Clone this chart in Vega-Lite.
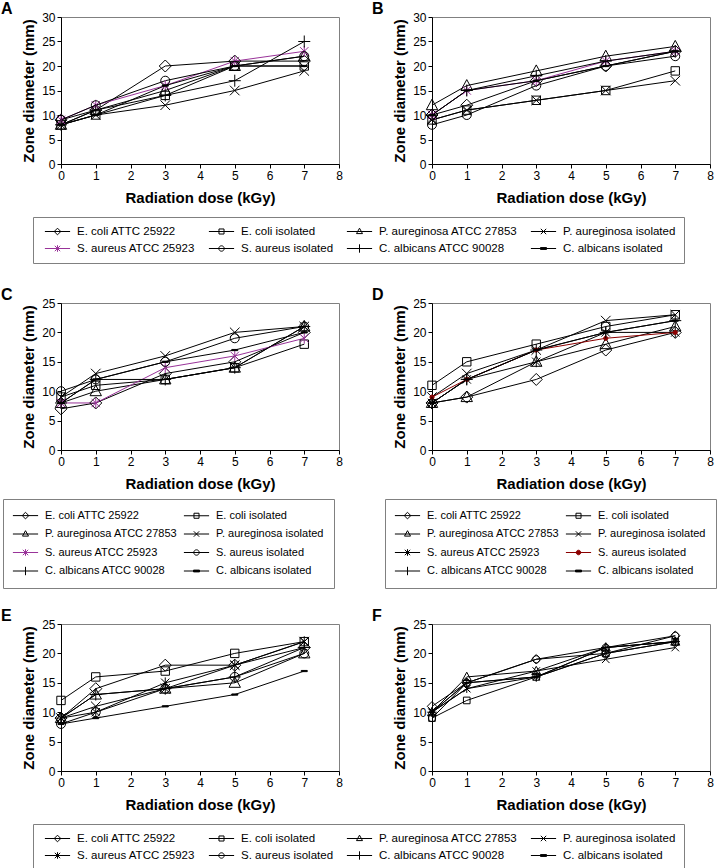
{
"$schema": "https://vega.github.io/schema/vega-lite/v6.json",
"padding": {"left": 0, "top": 0, "right": 0, "bottom": 0},
"config": {
  "font": "Liberation Sans",
  "view": {"stroke": null},
  "axis": {"grid": false, "domainColor": "black", "tickColor": "black", "tickSize": 4, "labelFontSize": 12, "labelColor": "black", "labelPadding": 2, "titleFontSize": 15, "titleFontWeight": "bold", "titleColor": "black", "labelFont": "Liberation Sans", "titleFont": "Liberation Sans", "labelFlush": false},
  "axisX": {"titlePadding": 9},
  "axisY": {"titlePadding": 5},
  "title": {"fontSize": 16, "fontWeight": "bold", "color": "black", "anchor": "start", "frame": "group", "font": "Liberation Sans"},
  "legend": {"direction": "horizontal", "columnPadding": 9, "rowPadding": 5, "padding": 8, "strokeColor": "#808080", "fillColor": "white", "symbolSize": 144, "symbolStrokeWidth": 1, "symbolOffset": 10, "labelFontSize": 11.5, "labelFont": "Liberation Sans", "labelColor": "black", "labelOffset": 13}
},
"datasets": {"pts": [
{"panel":"A","series":"E. coli ATTC 25922","dose":0,"zone":9},{"panel":"A","series":"E. coli ATTC 25922","dose":1,"zone":11},{"panel":"A","series":"E. coli ATTC 25922","dose":3,"zone":20},{"panel":"A","series":"E. coli ATTC 25922","dose":5,"zone":21},{"panel":"A","series":"E. coli ATTC 25922","dose":7,"zone":21},
{"panel":"A","series":"E. coli isolated","dose":0,"zone":8},{"panel":"A","series":"E. coli isolated","dose":1,"zone":10},{"panel":"A","series":"E. coli isolated","dose":3,"zone":14},{"panel":"A","series":"E. coli isolated","dose":5,"zone":20},{"panel":"A","series":"E. coli isolated","dose":7,"zone":20},
{"panel":"A","series":"P. aureginosa ATCC 27853","dose":0,"zone":8},{"panel":"A","series":"P. aureginosa ATCC 27853","dose":1,"zone":11},{"panel":"A","series":"P. aureginosa ATCC 27853","dose":3,"zone":15},{"panel":"A","series":"P. aureginosa ATCC 27853","dose":5,"zone":20},{"panel":"A","series":"P. aureginosa ATCC 27853","dose":7,"zone":22},
{"panel":"A","series":"P. aureginosa isolated","dose":0,"zone":8},{"panel":"A","series":"P. aureginosa isolated","dose":1,"zone":10},{"panel":"A","series":"P. aureginosa isolated","dose":3,"zone":12},{"panel":"A","series":"P. aureginosa isolated","dose":5,"zone":15},{"panel":"A","series":"P. aureginosa isolated","dose":7,"zone":19},
{"panel":"A","series":"S. aureus ATCC 25923","dose":0,"zone":9},{"panel":"A","series":"S. aureus ATCC 25923","dose":1,"zone":12},{"panel":"A","series":"S. aureus ATCC 25923","dose":3,"zone":16},{"panel":"A","series":"S. aureus ATCC 25923","dose":5,"zone":21},{"panel":"A","series":"S. aureus ATCC 25923","dose":7,"zone":23},
{"panel":"A","series":"S. aureus isolated","dose":0,"zone":9},{"panel":"A","series":"S. aureus isolated","dose":1,"zone":12},{"panel":"A","series":"S. aureus isolated","dose":3,"zone":17},{"panel":"A","series":"S. aureus isolated","dose":5,"zone":20},{"panel":"A","series":"S. aureus isolated","dose":7,"zone":22},
{"panel":"A","series":"C. albicans ATCC 90028","dose":0,"zone":8},{"panel":"A","series":"C. albicans ATCC 90028","dose":1,"zone":11},{"panel":"A","series":"C. albicans ATCC 90028","dose":3,"zone":14},{"panel":"A","series":"C. albicans ATCC 90028","dose":5,"zone":17},{"panel":"A","series":"C. albicans ATCC 90028","dose":7,"zone":25},
{"panel":"A","series":"C. albicans isolated","dose":0,"zone":8},{"panel":"A","series":"C. albicans isolated","dose":1,"zone":10},{"panel":"A","series":"C. albicans isolated","dose":3,"zone":16},{"panel":"A","series":"C. albicans isolated","dose":5,"zone":20},{"panel":"A","series":"C. albicans isolated","dose":7,"zone":20},
{"panel":"B","series":"E. coli ATTC 25922","dose":0,"zone":10},{"panel":"B","series":"E. coli ATTC 25922","dose":1,"zone":12},{"panel":"B","series":"E. coli ATTC 25922","dose":3,"zone":17},{"panel":"B","series":"E. coli ATTC 25922","dose":5,"zone":20},{"panel":"B","series":"E. coli ATTC 25922","dose":7,"zone":23},
{"panel":"B","series":"E. coli isolated","dose":0,"zone":9},{"panel":"B","series":"E. coli isolated","dose":1,"zone":11},{"panel":"B","series":"E. coli isolated","dose":3,"zone":13},{"panel":"B","series":"E. coli isolated","dose":5,"zone":15},{"panel":"B","series":"E. coli isolated","dose":7,"zone":19},
{"panel":"B","series":"P. aureginosa ATCC 27853","dose":0,"zone":12},{"panel":"B","series":"P. aureginosa ATCC 27853","dose":1,"zone":16},{"panel":"B","series":"P. aureginosa ATCC 27853","dose":3,"zone":19},{"panel":"B","series":"P. aureginosa ATCC 27853","dose":5,"zone":22},{"panel":"B","series":"P. aureginosa ATCC 27853","dose":7,"zone":24},
{"panel":"B","series":"P. aureginosa isolated","dose":0,"zone":9},{"panel":"B","series":"P. aureginosa isolated","dose":1,"zone":11},{"panel":"B","series":"P. aureginosa isolated","dose":3,"zone":13},{"panel":"B","series":"P. aureginosa isolated","dose":5,"zone":15},{"panel":"B","series":"P. aureginosa isolated","dose":7,"zone":17},
{"panel":"B","series":"S. aureus ATCC 25923","dose":0,"zone":10},{"panel":"B","series":"S. aureus ATCC 25923","dose":1,"zone":15},{"panel":"B","series":"S. aureus ATCC 25923","dose":3,"zone":17},{"panel":"B","series":"S. aureus ATCC 25923","dose":5,"zone":21},{"panel":"B","series":"S. aureus ATCC 25923","dose":7,"zone":23},
{"panel":"B","series":"S. aureus isolated","dose":0,"zone":8},{"panel":"B","series":"S. aureus isolated","dose":1,"zone":10},{"panel":"B","series":"S. aureus isolated","dose":3,"zone":16},{"panel":"B","series":"S. aureus isolated","dose":5,"zone":20},{"panel":"B","series":"S. aureus isolated","dose":7,"zone":22},
{"panel":"B","series":"C. albicans ATCC 90028","dose":0,"zone":10},{"panel":"B","series":"C. albicans ATCC 90028","dose":1,"zone":15},{"panel":"B","series":"C. albicans ATCC 90028","dose":3,"zone":18},{"panel":"B","series":"C. albicans ATCC 90028","dose":5,"zone":21},{"panel":"B","series":"C. albicans ATCC 90028","dose":7,"zone":23},
{"panel":"B","series":"C. albicans isolated","dose":0,"zone":10},{"panel":"B","series":"C. albicans isolated","dose":1,"zone":15},{"panel":"B","series":"C. albicans isolated","dose":3,"zone":17},{"panel":"B","series":"C. albicans isolated","dose":5,"zone":20},{"panel":"B","series":"C. albicans isolated","dose":7,"zone":23},
{"panel":"C","series":"E. coli ATTC 25922","dose":0,"zone":7},{"panel":"C","series":"E. coli ATTC 25922","dose":1,"zone":8},{"panel":"C","series":"E. coli ATTC 25922","dose":3,"zone":13},{"panel":"C","series":"E. coli ATTC 25922","dose":5,"zone":15},{"panel":"C","series":"E. coli ATTC 25922","dose":7,"zone":20},
{"panel":"C","series":"E. coli isolated","dose":0,"zone":9},{"panel":"C","series":"E. coli isolated","dose":1,"zone":11},{"panel":"C","series":"E. coli isolated","dose":3,"zone":12},{"panel":"C","series":"E. coli isolated","dose":5,"zone":14},{"panel":"C","series":"E. coli isolated","dose":7,"zone":18},
{"panel":"C","series":"P. aureginosa ATCC 27853","dose":0,"zone":8},{"panel":"C","series":"P. aureginosa ATCC 27853","dose":1,"zone":10},{"panel":"C","series":"P. aureginosa ATCC 27853","dose":3,"zone":12},{"panel":"C","series":"P. aureginosa ATCC 27853","dose":5,"zone":14},{"panel":"C","series":"P. aureginosa ATCC 27853","dose":7,"zone":21},
{"panel":"C","series":"P. aureginosa isolated","dose":0,"zone":9},{"panel":"C","series":"P. aureginosa isolated","dose":1,"zone":13},{"panel":"C","series":"P. aureginosa isolated","dose":3,"zone":16},{"panel":"C","series":"P. aureginosa isolated","dose":5,"zone":20},{"panel":"C","series":"P. aureginosa isolated","dose":7,"zone":21},
{"panel":"C","series":"S. aureus ATCC 25923","dose":0,"zone":8},{"panel":"C","series":"S. aureus ATCC 25923","dose":1,"zone":8},{"panel":"C","series":"S. aureus ATCC 25923","dose":3,"zone":14},{"panel":"C","series":"S. aureus ATCC 25923","dose":5,"zone":16},{"panel":"C","series":"S. aureus ATCC 25923","dose":7,"zone":19},
{"panel":"C","series":"S. aureus isolated","dose":0,"zone":10},{"panel":"C","series":"S. aureus isolated","dose":1,"zone":12},{"panel":"C","series":"S. aureus isolated","dose":3,"zone":15},{"panel":"C","series":"S. aureus isolated","dose":5,"zone":19},{"panel":"C","series":"S. aureus isolated","dose":7,"zone":21},
{"panel":"C","series":"C. albicans ATCC 90028","dose":0,"zone":8},{"panel":"C","series":"C. albicans ATCC 90028","dose":1,"zone":12},{"panel":"C","series":"C. albicans ATCC 90028","dose":3,"zone":12},{"panel":"C","series":"C. albicans ATCC 90028","dose":5,"zone":14},{"panel":"C","series":"C. albicans ATCC 90028","dose":7,"zone":21},
{"panel":"C","series":"C. albicans isolated","dose":0,"zone":8},{"panel":"C","series":"C. albicans isolated","dose":1,"zone":12},{"panel":"C","series":"C. albicans isolated","dose":3,"zone":15},{"panel":"C","series":"C. albicans isolated","dose":5,"zone":17},{"panel":"C","series":"C. albicans isolated","dose":7,"zone":20},
{"panel":"D","series":"E. coli ATTC 25922","dose":0,"zone":8},{"panel":"D","series":"E. coli ATTC 25922","dose":1,"zone":9},{"panel":"D","series":"E. coli ATTC 25922","dose":3,"zone":12},{"panel":"D","series":"E. coli ATTC 25922","dose":5,"zone":17},{"panel":"D","series":"E. coli ATTC 25922","dose":7,"zone":20},
{"panel":"D","series":"E. coli isolated","dose":0,"zone":11},{"panel":"D","series":"E. coli isolated","dose":1,"zone":15},{"panel":"D","series":"E. coli isolated","dose":3,"zone":18},{"panel":"D","series":"E. coli isolated","dose":5,"zone":21},{"panel":"D","series":"E. coli isolated","dose":7,"zone":23},
{"panel":"D","series":"P. aureginosa ATCC 27853","dose":0,"zone":8},{"panel":"D","series":"P. aureginosa ATCC 27853","dose":1,"zone":9},{"panel":"D","series":"P. aureginosa ATCC 27853","dose":3,"zone":15},{"panel":"D","series":"P. aureginosa ATCC 27853","dose":5,"zone":18},{"panel":"D","series":"P. aureginosa ATCC 27853","dose":7,"zone":21},
{"panel":"D","series":"P. aureginosa isolated","dose":0,"zone":9},{"panel":"D","series":"P. aureginosa isolated","dose":1,"zone":13},{"panel":"D","series":"P. aureginosa isolated","dose":3,"zone":17},{"panel":"D","series":"P. aureginosa isolated","dose":5,"zone":22},{"panel":"D","series":"P. aureginosa isolated","dose":7,"zone":23},
{"panel":"D","series":"S. aureus ATCC 25923","dose":0,"zone":8},{"panel":"D","series":"S. aureus ATCC 25923","dose":1,"zone":12},{"panel":"D","series":"S. aureus ATCC 25923","dose":3,"zone":15},{"panel":"D","series":"S. aureus ATCC 25923","dose":5,"zone":20},{"panel":"D","series":"S. aureus ATCC 25923","dose":7,"zone":20},
{"panel":"D","series":"S. aureus isolated","dose":0,"zone":9},{"panel":"D","series":"S. aureus isolated","dose":1,"zone":12},{"panel":"D","series":"S. aureus isolated","dose":3,"zone":17},{"panel":"D","series":"S. aureus isolated","dose":5,"zone":19},{"panel":"D","series":"S. aureus isolated","dose":7,"zone":20},
{"panel":"D","series":"C. albicans ATCC 90028","dose":0,"zone":8},{"panel":"D","series":"C. albicans ATCC 90028","dose":1,"zone":12},{"panel":"D","series":"C. albicans ATCC 90028","dose":3,"zone":17},{"panel":"D","series":"C. albicans ATCC 90028","dose":5,"zone":20},{"panel":"D","series":"C. albicans ATCC 90028","dose":7,"zone":22},
{"panel":"D","series":"C. albicans isolated","dose":0,"zone":8},{"panel":"D","series":"C. albicans isolated","dose":1,"zone":12},{"panel":"D","series":"C. albicans isolated","dose":3,"zone":17},{"panel":"D","series":"C. albicans isolated","dose":5,"zone":20},{"panel":"D","series":"C. albicans isolated","dose":7,"zone":22},
{"panel":"E","series":"E. coli ATTC 25922","dose":0,"zone":9},{"panel":"E","series":"E. coli ATTC 25922","dose":1,"zone":14},{"panel":"E","series":"E. coli ATTC 25922","dose":3,"zone":18},{"panel":"E","series":"E. coli ATTC 25922","dose":5,"zone":18},{"panel":"E","series":"E. coli ATTC 25922","dose":7,"zone":21},
{"panel":"E","series":"E. coli isolated","dose":0,"zone":12},{"panel":"E","series":"E. coli isolated","dose":1,"zone":16},{"panel":"E","series":"E. coli isolated","dose":3,"zone":17},{"panel":"E","series":"E. coli isolated","dose":5,"zone":20},{"panel":"E","series":"E. coli isolated","dose":7,"zone":22},
{"panel":"E","series":"P. aureginosa ATCC 27853","dose":0,"zone":9},{"panel":"E","series":"P. aureginosa ATCC 27853","dose":1,"zone":13},{"panel":"E","series":"P. aureginosa ATCC 27853","dose":3,"zone":14},{"panel":"E","series":"P. aureginosa ATCC 27853","dose":5,"zone":15},{"panel":"E","series":"P. aureginosa ATCC 27853","dose":7,"zone":20},
{"panel":"E","series":"P. aureginosa isolated","dose":0,"zone":9},{"panel":"E","series":"P. aureginosa isolated","dose":1,"zone":11},{"panel":"E","series":"P. aureginosa isolated","dose":3,"zone":14},{"panel":"E","series":"P. aureginosa isolated","dose":5,"zone":18},{"panel":"E","series":"P. aureginosa isolated","dose":7,"zone":22},
{"panel":"E","series":"S. aureus ATCC 25923","dose":0,"zone":9},{"panel":"E","series":"S. aureus ATCC 25923","dose":1,"zone":10},{"panel":"E","series":"S. aureus ATCC 25923","dose":3,"zone":15},{"panel":"E","series":"S. aureus ATCC 25923","dose":5,"zone":18},{"panel":"E","series":"S. aureus ATCC 25923","dose":7,"zone":22},
{"panel":"E","series":"S. aureus isolated","dose":0,"zone":8},{"panel":"E","series":"S. aureus isolated","dose":1,"zone":10},{"panel":"E","series":"S. aureus isolated","dose":3,"zone":14},{"panel":"E","series":"S. aureus isolated","dose":5,"zone":16},{"panel":"E","series":"S. aureus isolated","dose":7,"zone":20},
{"panel":"E","series":"C. albicans ATCC 90028","dose":0,"zone":9},{"panel":"E","series":"C. albicans ATCC 90028","dose":1,"zone":13},{"panel":"E","series":"C. albicans ATCC 90028","dose":3,"zone":14},{"panel":"E","series":"C. albicans ATCC 90028","dose":5,"zone":16},{"panel":"E","series":"C. albicans ATCC 90028","dose":7,"zone":21},
{"panel":"E","series":"C. albicans isolated","dose":0,"zone":8},{"panel":"E","series":"C. albicans isolated","dose":1,"zone":9},{"panel":"E","series":"C. albicans isolated","dose":3,"zone":11},{"panel":"E","series":"C. albicans isolated","dose":5,"zone":13},{"panel":"E","series":"C. albicans isolated","dose":7,"zone":17},
{"panel":"F","series":"E. coli ATTC 25922","dose":0,"zone":11},{"panel":"F","series":"E. coli ATTC 25922","dose":1,"zone":15},{"panel":"F","series":"E. coli ATTC 25922","dose":3,"zone":19},{"panel":"F","series":"E. coli ATTC 25922","dose":5,"zone":20},{"panel":"F","series":"E. coli ATTC 25922","dose":7,"zone":23},
{"panel":"F","series":"E. coli isolated","dose":0,"zone":9},{"panel":"F","series":"E. coli isolated","dose":1,"zone":12},{"panel":"F","series":"E. coli isolated","dose":3,"zone":16},{"panel":"F","series":"E. coli isolated","dose":5,"zone":20},{"panel":"F","series":"E. coli isolated","dose":7,"zone":22},
{"panel":"F","series":"P. aureginosa ATCC 27853","dose":0,"zone":10},{"panel":"F","series":"P. aureginosa ATCC 27853","dose":1,"zone":16},{"panel":"F","series":"P. aureginosa ATCC 27853","dose":3,"zone":17},{"panel":"F","series":"P. aureginosa ATCC 27853","dose":5,"zone":21},{"panel":"F","series":"P. aureginosa ATCC 27853","dose":7,"zone":22},
{"panel":"F","series":"P. aureginosa isolated","dose":0,"zone":10},{"panel":"F","series":"P. aureginosa isolated","dose":1,"zone":14},{"panel":"F","series":"P. aureginosa isolated","dose":3,"zone":17},{"panel":"F","series":"P. aureginosa isolated","dose":5,"zone":19},{"panel":"F","series":"P. aureginosa isolated","dose":7,"zone":21},
{"panel":"F","series":"S. aureus ATCC 25923","dose":0,"zone":10},{"panel":"F","series":"S. aureus ATCC 25923","dose":1,"zone":14},{"panel":"F","series":"S. aureus ATCC 25923","dose":3,"zone":16},{"panel":"F","series":"S. aureus ATCC 25923","dose":5,"zone":20},{"panel":"F","series":"S. aureus ATCC 25923","dose":7,"zone":22},
{"panel":"F","series":"S. aureus isolated","dose":0,"zone":9},{"panel":"F","series":"S. aureus isolated","dose":1,"zone":15},{"panel":"F","series":"S. aureus isolated","dose":3,"zone":19},{"panel":"F","series":"S. aureus isolated","dose":5,"zone":21},{"panel":"F","series":"S. aureus isolated","dose":7,"zone":23},
{"panel":"F","series":"C. albicans ATCC 90028","dose":0,"zone":10},{"panel":"F","series":"C. albicans ATCC 90028","dose":1,"zone":15},{"panel":"F","series":"C. albicans ATCC 90028","dose":3,"zone":16},{"panel":"F","series":"C. albicans ATCC 90028","dose":5,"zone":21},{"panel":"F","series":"C. albicans ATCC 90028","dose":7,"zone":22},
{"panel":"F","series":"C. albicans isolated","dose":0,"zone":10},{"panel":"F","series":"C. albicans isolated","dose":1,"zone":15},{"panel":"F","series":"C. albicans isolated","dose":3,"zone":16},{"panel":"F","series":"C. albicans isolated","dose":5,"zone":21},{"panel":"F","series":"C. albicans isolated","dose":7,"zone":22}
]},
"spacing": 0,
"resolve": {"scale": {"shape": "independent", "stroke": "independent", "fill": "independent"}},
"vconcat": [
{"hconcat": [
 {"width": 278, "height": 147, "title": {"text": "A", "dx": -60, "offset": -6}, "view": {"stroke": "#808080"},
  "data": {"name": "pts"}, "transform": [{"filter": "datum.panel == 'A'"}],
  "encoding": {
   "x": {"field": "dose", "type": "quantitative", "scale": {"domain": [0, 8], "nice": false}, "axis": {"values": [0,1,2,3,4,5,6,7,8], "title": "Radiation dose (kGy)"}},
   "y": {"field": "zone", "type": "quantitative", "scale": {"domain": [0, 30], "nice": false}, "axis": {"values": [0,5,10,15,20,25,30], "title": "Zone diameter (mm)"}}},
  "layer": [
   {"mark": {"type": "line", "strokeWidth": 1}, "encoding": {"stroke": {"field": "series", "type": "nominal", "scale": {"domain": ["E. coli ATTC 25922","E. coli isolated","P. aureginosa ATCC 27853","P. aureginosa isolated","S. aureus ATCC 25923","S. aureus isolated","C. albicans ATCC 90028","C. albicans isolated"], "range": ["black","black","black","black","#993399","black","black","black"]}, "legend": null}}},
   {"mark": {"type": "point", "size": 144, "strokeWidth": 1, "opacity": 1}, "encoding": {
     "stroke": {"field": "series", "type": "nominal", "scale": {"domain": ["E. coli ATTC 25922","E. coli isolated","P. aureginosa ATCC 27853","P. aureginosa isolated","S. aureus ATCC 25923","S. aureus isolated","C. albicans ATCC 90028","C. albicans isolated"], "range": ["black","black","black","black","#993399","black","black","black"]}, "legend": null},
     "fill": {"field": "series", "type": "nominal", "scale": {"domain": ["E. coli ATTC 25922","E. coli isolated","P. aureginosa ATCC 27853","P. aureginosa isolated","S. aureus ATCC 25923","S. aureus isolated","C. albicans ATCC 90028","C. albicans isolated"], "range": ["transparent","transparent","transparent","transparent","transparent","transparent","transparent","black"]}, "legend": null},
     "shape": {"field": "series", "type": "nominal", "scale": {"domain": ["E. coli ATTC 25922","E. coli isolated","P. aureginosa ATCC 27853","P. aureginosa isolated","S. aureus ATCC 25923","S. aureus isolated","C. albicans ATCC 90028","C. albicans isolated"], "range": ["M0,-1L1,0L0,1L-1,0Z","M-0.7,-0.7L0.7,-0.7L0.7,0.7L-0.7,0.7Z","M0,-1L0.95,0.75L-0.95,0.75Z","M-0.8,-0.8L0.8,0.8M-0.8,0.8L0.8,-0.8","M-0.7,-0.7L0.7,0.7M-0.7,0.7L0.7,-0.7M0,-0.9L0,0.9","M0.75,0A0.75,0.75 0 1 1 -0.75,0A0.75,0.75 0 1 1 0.75,0Z","M-1,0L1,0M0,-1L0,1","M-0.5,-0.1L0.5,-0.1L0.5,0.1L-0.5,0.1Z"]}, "legend": null}}}
  ]},
 {"width": 278, "height": 147, "title": {"text": "B", "dx": -60, "offset": -6}, "view": {"stroke": "#808080"},
  "data": {"name": "pts"}, "transform": [{"filter": "datum.panel == 'B'"}],
  "encoding": {
   "x": {"field": "dose", "type": "quantitative", "scale": {"domain": [0, 8], "nice": false}, "axis": {"values": [0,1,2,3,4,5,6,7,8], "title": "Radiation dose (kGy)"}},
   "y": {"field": "zone", "type": "quantitative", "scale": {"domain": [0, 30], "nice": false}, "axis": {"values": [0,5,10,15,20,25,30], "title": "Zone diameter (mm)"}}},
  "layer": [
   {"mark": {"type": "line", "strokeWidth": 1}, "encoding": {"stroke": {"field": "series", "type": "nominal", "scale": {"domain": ["E. coli ATTC 25922","E. coli isolated","P. aureginosa ATCC 27853","P. aureginosa isolated","S. aureus ATCC 25923","S. aureus isolated","C. albicans ATCC 90028","C. albicans isolated"], "range": ["black","black","black","black","#993399","black","black","black"]}, "legend": null}}},
   {"mark": {"type": "point", "size": 144, "strokeWidth": 1, "opacity": 1}, "encoding": {
     "stroke": {"field": "series", "type": "nominal", "scale": {"domain": ["E. coli ATTC 25922","E. coli isolated","P. aureginosa ATCC 27853","P. aureginosa isolated","S. aureus ATCC 25923","S. aureus isolated","C. albicans ATCC 90028","C. albicans isolated"], "range": ["black","black","black","black","#993399","black","black","black"]}, "legend": null},
     "fill": {"field": "series", "type": "nominal", "scale": {"domain": ["E. coli ATTC 25922","E. coli isolated","P. aureginosa ATCC 27853","P. aureginosa isolated","S. aureus ATCC 25923","S. aureus isolated","C. albicans ATCC 90028","C. albicans isolated"], "range": ["transparent","transparent","transparent","transparent","transparent","transparent","transparent","black"]}, "legend": null},
     "shape": {"field": "series", "type": "nominal", "scale": {"domain": ["E. coli ATTC 25922","E. coli isolated","P. aureginosa ATCC 27853","P. aureginosa isolated","S. aureus ATCC 25923","S. aureus isolated","C. albicans ATCC 90028","C. albicans isolated"], "range": ["M0,-1L1,0L0,1L-1,0Z","M-0.7,-0.7L0.7,-0.7L0.7,0.7L-0.7,0.7Z","M0,-1L0.95,0.75L-0.95,0.75Z","M-0.8,-0.8L0.8,0.8M-0.8,0.8L0.8,-0.8","M-0.7,-0.7L0.7,0.7M-0.7,0.7L0.7,-0.7M0,-0.9L0,0.9","M0.75,0A0.75,0.75 0 1 1 -0.75,0A0.75,0.75 0 1 1 0.75,0Z","M-1,0L1,0M0,-1L0,1","M-0.5,-0.1L0.5,-0.1L0.5,0.1L-0.5,0.1Z"]}, "legend": null}}}
  ]}
 ], "spacing": 28, "resolve": {"scale": {"shape": "independent", "stroke": "independent", "fill": "independent"}}},
{"width": 360, "height": 80, "data": {"name": "pts"}, "transform": [{"filter": "false"}],
 "mark": {"type": "point", "size": 144, "opacity": 1, "strokeWidth": 1},
 "encoding": {
  "stroke": {"field": "series", "type": "nominal", "scale": {"domain": ["E. coli ATTC 25922","E. coli isolated","P. aureginosa ATCC 27853","P. aureginosa isolated","S. aureus ATCC 25923","S. aureus isolated","C. albicans ATCC 90028","C. albicans isolated"], "range": ["black","black","black","black","#993399","black","black","black"]}, "legend": {"title": null, "orient": "none", "legendX": -28, "legendY": 11, "columns": 4}},
  "fill": {"field": "series", "type": "nominal", "scale": {"domain": ["E. coli ATTC 25922","E. coli isolated","P. aureginosa ATCC 27853","P. aureginosa isolated","S. aureus ATCC 25923","S. aureus isolated","C. albicans ATCC 90028","C. albicans isolated"], "range": ["transparent","transparent","transparent","transparent","transparent","transparent","transparent","black"]}, "legend": {"title": null, "orient": "none", "legendX": -28, "legendY": 11, "columns": 4}},
  "shape": {"field": "series", "type": "nominal", "scale": {"domain": ["E. coli ATTC 25922","E. coli isolated","P. aureginosa ATCC 27853","P. aureginosa isolated","S. aureus ATCC 25923","S. aureus isolated","C. albicans ATCC 90028","C. albicans isolated"], "range": ["M-2.1,0L2.1,0M0,-0.55L0.55,0L0,0.55L-0.55,0Z","M-2.1,0L2.1,0M-0.42,-0.42L0.42,-0.42L0.42,0.42L-0.42,0.42Z","M-2.1,0L2.1,0M0,-0.55L0.5,0.35L-0.5,0.35Z","M-2.1,0L2.1,0M-0.45,-0.45L0.45,0.45M-0.45,0.45L0.45,-0.45","M-2.1,0L2.1,0M-0.45,-0.45L0.45,0.45M-0.45,0.45L0.45,-0.45M0,-0.55L0,0.55","M-2.1,0L2.1,0M0.45,0A0.45,0.45 0 1 1 -0.45,0A0.45,0.45 0 1 1 0.45,0Z","M-2.1,0L2.1,0M0,-0.7L0,0.7","M-2.1,0L2.1,0M-0.5,-0.15L0.5,-0.15L0.5,0.15L-0.5,0.15Z"]}, "legend": {"title": null, "orient": "none", "legendX": -28, "legendY": 11, "columns": 4}}}},
{"hconcat": [
 {"width": 278, "height": 147, "title": {"text": "C", "dx": -60, "offset": -6}, "view": {"stroke": "#808080"},
  "data": {"name": "pts"}, "transform": [{"filter": "datum.panel == 'C'"}],
  "encoding": {
   "x": {"field": "dose", "type": "quantitative", "scale": {"domain": [0, 8], "nice": false}, "axis": {"values": [0,1,2,3,4,5,6,7,8], "title": "Radiation dose (kGy)"}},
   "y": {"field": "zone", "type": "quantitative", "scale": {"domain": [0, 25], "nice": false}, "axis": {"values": [0,5,10,15,20,25], "title": "Zone diameter (mm)"}}},
  "layer": [
   {"mark": {"type": "line", "strokeWidth": 1}, "encoding": {"stroke": {"field": "series", "type": "nominal", "scale": {"domain": ["E. coli ATTC 25922","E. coli isolated","P. aureginosa ATCC 27853","P. aureginosa isolated","S. aureus ATCC 25923","S. aureus isolated","C. albicans ATCC 90028","C. albicans isolated"], "range": ["black","black","black","black","#993399","black","black","black"]}, "legend": null}}},
   {"mark": {"type": "point", "size": 144, "strokeWidth": 1, "opacity": 1}, "encoding": {
     "stroke": {"field": "series", "type": "nominal", "scale": {"domain": ["E. coli ATTC 25922","E. coli isolated","P. aureginosa ATCC 27853","P. aureginosa isolated","S. aureus ATCC 25923","S. aureus isolated","C. albicans ATCC 90028","C. albicans isolated"], "range": ["black","black","black","black","#993399","black","black","black"]}, "legend": null},
     "fill": {"field": "series", "type": "nominal", "scale": {"domain": ["E. coli ATTC 25922","E. coli isolated","P. aureginosa ATCC 27853","P. aureginosa isolated","S. aureus ATCC 25923","S. aureus isolated","C. albicans ATCC 90028","C. albicans isolated"], "range": ["transparent","transparent","transparent","transparent","transparent","transparent","transparent","black"]}, "legend": null},
     "shape": {"field": "series", "type": "nominal", "scale": {"domain": ["E. coli ATTC 25922","E. coli isolated","P. aureginosa ATCC 27853","P. aureginosa isolated","S. aureus ATCC 25923","S. aureus isolated","C. albicans ATCC 90028","C. albicans isolated"], "range": ["M0,-1L1,0L0,1L-1,0Z","M-0.7,-0.7L0.7,-0.7L0.7,0.7L-0.7,0.7Z","M0,-1L0.95,0.75L-0.95,0.75Z","M-0.8,-0.8L0.8,0.8M-0.8,0.8L0.8,-0.8","M-0.7,-0.7L0.7,0.7M-0.7,0.7L0.7,-0.7M0,-0.9L0,0.9","M0.75,0A0.75,0.75 0 1 1 -0.75,0A0.75,0.75 0 1 1 0.75,0Z","M-1,0L1,0M0,-1L0,1","M-0.5,-0.1L0.5,-0.1L0.5,0.1L-0.5,0.1Z"]}, "legend": null}}}
  ]},
 {"width": 278, "height": 147, "title": {"text": "D", "dx": -60, "offset": -6}, "view": {"stroke": "#808080"},
  "data": {"name": "pts"}, "transform": [{"filter": "datum.panel == 'D'"}],
  "encoding": {
   "x": {"field": "dose", "type": "quantitative", "scale": {"domain": [0, 8], "nice": false}, "axis": {"values": [0,1,2,3,4,5,6,7,8], "title": "Radiation dose (kGy)"}},
   "y": {"field": "zone", "type": "quantitative", "scale": {"domain": [0, 25], "nice": false}, "axis": {"values": [0,5,10,15,20,25], "title": "Zone diameter (mm)"}}},
  "layer": [
   {"mark": {"type": "line", "strokeWidth": 1}, "encoding": {"stroke": {"field": "series", "type": "nominal", "scale": {"domain": ["E. coli ATTC 25922","E. coli isolated","P. aureginosa ATCC 27853","P. aureginosa isolated","S. aureus ATCC 25923","S. aureus isolated","C. albicans ATCC 90028","C. albicans isolated"], "range": ["black","black","black","black","black","#8B0000","black","black"]}, "legend": null}}},
   {"mark": {"type": "point", "size": 144, "strokeWidth": 1, "opacity": 1}, "encoding": {
     "stroke": {"field": "series", "type": "nominal", "scale": {"domain": ["E. coli ATTC 25922","E. coli isolated","P. aureginosa ATCC 27853","P. aureginosa isolated","S. aureus ATCC 25923","S. aureus isolated","C. albicans ATCC 90028","C. albicans isolated"], "range": ["black","black","black","black","black","#8B0000","black","black"]}, "legend": null},
     "fill": {"field": "series", "type": "nominal", "scale": {"domain": ["E. coli ATTC 25922","E. coli isolated","P. aureginosa ATCC 27853","P. aureginosa isolated","S. aureus ATCC 25923","S. aureus isolated","C. albicans ATCC 90028","C. albicans isolated"], "range": ["transparent","transparent","transparent","transparent","transparent","#8B0000","transparent","black"]}, "legend": null},
     "shape": {"field": "series", "type": "nominal", "scale": {"domain": ["E. coli ATTC 25922","E. coli isolated","P. aureginosa ATCC 27853","P. aureginosa isolated","S. aureus ATCC 25923","S. aureus isolated","C. albicans ATCC 90028","C. albicans isolated"], "range": ["M0,-1L1,0L0,1L-1,0Z","M-0.7,-0.7L0.7,-0.7L0.7,0.7L-0.7,0.7Z","M0,-1L0.95,0.75L-0.95,0.75Z","M-0.8,-0.8L0.8,0.8M-0.8,0.8L0.8,-0.8","M-0.7,-0.7L0.7,0.7M-0.7,0.7L0.7,-0.7M0,-0.9L0,0.9","M0.35,0A0.35,0.35 0 1 1 -0.35,0A0.35,0.35 0 1 1 0.35,0Z","M-1,0L1,0M0,-1L0,1","M-0.5,-0.1L0.5,-0.1L0.5,0.1L-0.5,0.1Z"]}, "legend": null}}}
  ]}
 ], "spacing": 28, "resolve": {"scale": {"shape": "independent", "stroke": "independent", "fill": "independent"}}},
{"hconcat": [
 {"width": 308, "height": 115, "data": {"name": "pts"}, "transform": [{"filter": "false"}],
  "mark": {"type": "point", "size": 144, "opacity": 1, "strokeWidth": 1},
  "encoding": {
   "stroke": {"field": "series", "type": "nominal", "scale": {"domain": ["E. coli ATTC 25922","E. coli isolated","P. aureginosa ATCC 27853","P. aureginosa isolated","S. aureus ATCC 25923","S. aureus isolated","C. albicans ATCC 90028","C. albicans isolated"], "range": ["black","black","black","black","#993399","black","black","black"]}, "legend": {"title": null, "orient": "none", "legendX": -58, "legendY": 7, "columns": 2, "columnPadding": 3, "rowPadding": 6.5, "padding": 10, "symbolOffset": 6, "labelFontSize": 11}},
   "fill": {"field": "series", "type": "nominal", "scale": {"domain": ["E. coli ATTC 25922","E. coli isolated","P. aureginosa ATCC 27853","P. aureginosa isolated","S. aureus ATCC 25923","S. aureus isolated","C. albicans ATCC 90028","C. albicans isolated"], "range": ["transparent","transparent","transparent","transparent","transparent","transparent","transparent","black"]}, "legend": {"title": null, "orient": "none", "legendX": -58, "legendY": 7, "columns": 2, "columnPadding": 3, "rowPadding": 6.5, "padding": 10, "symbolOffset": 6, "labelFontSize": 11}},
   "shape": {"field": "series", "type": "nominal", "scale": {"domain": ["E. coli ATTC 25922","E. coli isolated","P. aureginosa ATCC 27853","P. aureginosa isolated","S. aureus ATCC 25923","S. aureus isolated","C. albicans ATCC 90028","C. albicans isolated"], "range": ["M-2.1,0L2.1,0M0,-0.55L0.55,0L0,0.55L-0.55,0Z","M-2.1,0L2.1,0M-0.42,-0.42L0.42,-0.42L0.42,0.42L-0.42,0.42Z","M-2.1,0L2.1,0M0,-0.55L0.5,0.35L-0.5,0.35Z","M-2.1,0L2.1,0M-0.45,-0.45L0.45,0.45M-0.45,0.45L0.45,-0.45","M-2.1,0L2.1,0M-0.45,-0.45L0.45,0.45M-0.45,0.45L0.45,-0.45M0,-0.55L0,0.55","M-2.1,0L2.1,0M0.45,0A0.45,0.45 0 1 1 -0.45,0A0.45,0.45 0 1 1 0.45,0Z","M-2.1,0L2.1,0M0,-0.7L0,0.7","M-2.1,0L2.1,0M-0.5,-0.15L0.5,-0.15L0.5,0.15L-0.5,0.15Z"]}, "legend": {"title": null, "orient": "none", "legendX": -58, "legendY": 7, "columns": 2, "columnPadding": 3, "rowPadding": 6.5, "padding": 10, "symbolOffset": 6, "labelFontSize": 11}}}},
 {"width": 10, "height": 115, "data": {"name": "pts"}, "transform": [{"filter": "false"}],
  "mark": {"type": "point", "size": 144, "opacity": 1, "strokeWidth": 1},
  "encoding": {
   "stroke": {"field": "series", "type": "nominal", "scale": {"domain": ["E. coli ATTC 25922","E. coli isolated","P. aureginosa ATCC 27853","P. aureginosa isolated","S. aureus ATCC 25923","S. aureus isolated","C. albicans ATCC 90028","C. albicans isolated"], "range": ["black","black","black","black","black","#8B0000","black","black"]}, "legend": {"title": null, "orient": "none", "legendX": 16, "legendY": 7, "columns": 2, "columnPadding": 3, "rowPadding": 6.5, "padding": 10, "symbolOffset": 6, "labelFontSize": 11}},
   "fill": {"field": "series", "type": "nominal", "scale": {"domain": ["E. coli ATTC 25922","E. coli isolated","P. aureginosa ATCC 27853","P. aureginosa isolated","S. aureus ATCC 25923","S. aureus isolated","C. albicans ATCC 90028","C. albicans isolated"], "range": ["transparent","transparent","transparent","transparent","transparent","#8B0000","transparent","black"]}, "legend": {"title": null, "orient": "none", "legendX": 16, "legendY": 7, "columns": 2, "columnPadding": 3, "rowPadding": 6.5, "padding": 10, "symbolOffset": 6, "labelFontSize": 11}},
   "shape": {"field": "series", "type": "nominal", "scale": {"domain": ["E. coli ATTC 25922","E. coli isolated","P. aureginosa ATCC 27853","P. aureginosa isolated","S. aureus ATCC 25923","S. aureus isolated","C. albicans ATCC 90028","C. albicans isolated"], "range": ["M-2.1,0L2.1,0M0,-0.55L0.55,0L0,0.55L-0.55,0Z","M-2.1,0L2.1,0M-0.42,-0.42L0.42,-0.42L0.42,0.42L-0.42,0.42Z","M-2.1,0L2.1,0M0,-0.55L0.5,0.35L-0.5,0.35Z","M-2.1,0L2.1,0M-0.45,-0.45L0.45,0.45M-0.45,0.45L0.45,-0.45","M-2.1,0L2.1,0M-0.45,-0.45L0.45,0.45M-0.45,0.45L0.45,-0.45M0,-0.55L0,0.55","M-2.1,0L2.1,0M0.38,0A0.38,0.38 0 1 1 -0.38,0A0.38,0.38 0 1 1 0.38,0Z","M-2.1,0L2.1,0M0,-0.7L0,0.7","M-2.1,0L2.1,0M-0.5,-0.15L0.5,-0.15L0.5,0.15L-0.5,0.15Z"]}, "legend": {"title": null, "orient": "none", "legendX": 16, "legendY": 7, "columns": 2, "columnPadding": 3, "rowPadding": 6.5, "padding": 10, "symbolOffset": 6, "labelFontSize": 11}}}}
 ], "spacing": 0, "resolve": {"scale": {"shape": "independent", "stroke": "independent", "fill": "independent"}}},
{"hconcat": [
 {"width": 278, "height": 147, "title": {"text": "E", "dx": -60, "offset": -6}, "view": {"stroke": "#808080"},
  "data": {"name": "pts"}, "transform": [{"filter": "datum.panel == 'E'"}],
  "encoding": {
   "x": {"field": "dose", "type": "quantitative", "scale": {"domain": [0, 8], "nice": false}, "axis": {"values": [0,1,2,3,4,5,6,7,8], "title": "Radiation dose (kGy)"}},
   "y": {"field": "zone", "type": "quantitative", "scale": {"domain": [0, 25], "nice": false}, "axis": {"values": [0,5,10,15,20,25], "title": "Zone diameter (mm)"}}},
  "layer": [
   {"mark": {"type": "line", "strokeWidth": 1, "color": "black"}, "encoding": {"detail": {"field": "series", "type": "nominal"}}},
   {"mark": {"type": "point", "size": 144, "strokeWidth": 1, "opacity": 1, "stroke": "black"}, "encoding": {
     "fill": {"field": "series", "type": "nominal", "scale": {"domain": ["E. coli ATTC 25922","E. coli isolated","P. aureginosa ATCC 27853","P. aureginosa isolated","S. aureus ATCC 25923","S. aureus isolated","C. albicans ATCC 90028","C. albicans isolated"], "range": ["transparent","transparent","transparent","transparent","transparent","transparent","transparent","black"]}, "legend": null},
     "shape": {"field": "series", "type": "nominal", "scale": {"domain": ["E. coli ATTC 25922","E. coli isolated","P. aureginosa ATCC 27853","P. aureginosa isolated","S. aureus ATCC 25923","S. aureus isolated","C. albicans ATCC 90028","C. albicans isolated"], "range": ["M0,-1L1,0L0,1L-1,0Z","M-0.7,-0.7L0.7,-0.7L0.7,0.7L-0.7,0.7Z","M0,-1L0.95,0.75L-0.95,0.75Z","M-0.8,-0.8L0.8,0.8M-0.8,0.8L0.8,-0.8","M-0.7,-0.7L0.7,0.7M-0.7,0.7L0.7,-0.7M0,-0.9L0,0.9","M0.75,0A0.75,0.75 0 1 1 -0.75,0A0.75,0.75 0 1 1 0.75,0Z","M-1,0L1,0M0,-1L0,1","M-0.5,-0.1L0.5,-0.1L0.5,0.1L-0.5,0.1Z"]}, "legend": null}}}
  ]},
 {"width": 278, "height": 147, "title": {"text": "F", "dx": -60, "offset": -6}, "view": {"stroke": "#808080"},
  "data": {"name": "pts"}, "transform": [{"filter": "datum.panel == 'F'"}],
  "encoding": {
   "x": {"field": "dose", "type": "quantitative", "scale": {"domain": [0, 8], "nice": false}, "axis": {"values": [0,1,2,3,4,5,6,7,8], "title": "Radiation dose (kGy)"}},
   "y": {"field": "zone", "type": "quantitative", "scale": {"domain": [0, 25], "nice": false}, "axis": {"values": [0,5,10,15,20,25], "title": "Zone diameter (mm)"}}},
  "layer": [
   {"mark": {"type": "line", "strokeWidth": 1, "color": "black"}, "encoding": {"detail": {"field": "series", "type": "nominal"}}},
   {"mark": {"type": "point", "size": 90, "strokeWidth": 1, "opacity": 1, "stroke": "black"}, "encoding": {
     "fill": {"field": "series", "type": "nominal", "scale": {"domain": ["E. coli ATTC 25922","E. coli isolated","P. aureginosa ATCC 27853","P. aureginosa isolated","S. aureus ATCC 25923","S. aureus isolated","C. albicans ATCC 90028","C. albicans isolated"], "range": ["transparent","transparent","transparent","transparent","transparent","transparent","transparent","black"]}, "legend": null},
     "shape": {"field": "series", "type": "nominal", "scale": {"domain": ["E. coli ATTC 25922","E. coli isolated","P. aureginosa ATCC 27853","P. aureginosa isolated","S. aureus ATCC 25923","S. aureus isolated","C. albicans ATCC 90028","C. albicans isolated"], "range": ["M0,-1L1,0L0,1L-1,0Z","M-0.7,-0.7L0.7,-0.7L0.7,0.7L-0.7,0.7Z","M0,-1L0.95,0.75L-0.95,0.75Z","M-0.8,-0.8L0.8,0.8M-0.8,0.8L0.8,-0.8","M-0.7,-0.7L0.7,0.7M-0.7,0.7L0.7,-0.7M0,-0.9L0,0.9","M0.75,0A0.75,0.75 0 1 1 -0.75,0A0.75,0.75 0 1 1 0.75,0Z","M-1,0L1,0M0,-1L0,1","M-0.5,-0.1L0.5,-0.1L0.5,0.1L-0.5,0.1Z"]}, "legend": null}}}
  ]}
 ], "spacing": 28, "resolve": {"scale": {"shape": "independent", "stroke": "independent", "fill": "independent"}}},
{"width": 360, "height": 10, "data": {"name": "pts"}, "transform": [{"filter": "false"}],
 "mark": {"type": "point", "size": 144, "opacity": 1, "strokeWidth": 1, "stroke": "black"},
 "encoding": {
  "fill": {"field": "series", "type": "nominal", "scale": {"domain": ["E. coli ATTC 25922","E. coli isolated","P. aureginosa ATCC 27853","P. aureginosa isolated","S. aureus ATCC 25923","S. aureus isolated","C. albicans ATCC 90028","C. albicans isolated"], "range": ["transparent","transparent","transparent","transparent","transparent","transparent","transparent","black"]}, "legend": {"title": null, "orient": "none", "legendX": -28, "legendY": 11, "columns": 4}},
  "shape": {"field": "series", "type": "nominal", "scale": {"domain": ["E. coli ATTC 25922","E. coli isolated","P. aureginosa ATCC 27853","P. aureginosa isolated","S. aureus ATCC 25923","S. aureus isolated","C. albicans ATCC 90028","C. albicans isolated"], "range": ["M-2.1,0L2.1,0M0,-0.55L0.55,0L0,0.55L-0.55,0Z","M-2.1,0L2.1,0M-0.42,-0.42L0.42,-0.42L0.42,0.42L-0.42,0.42Z","M-2.1,0L2.1,0M0,-0.55L0.5,0.35L-0.5,0.35Z","M-2.1,0L2.1,0M-0.45,-0.45L0.45,0.45M-0.45,0.45L0.45,-0.45","M-2.1,0L2.1,0M-0.45,-0.45L0.45,0.45M-0.45,0.45L0.45,-0.45M0,-0.55L0,0.55","M-2.1,0L2.1,0M0.45,0A0.45,0.45 0 1 1 -0.45,0A0.45,0.45 0 1 1 0.45,0Z","M-2.1,0L2.1,0M0,-0.7L0,0.7","M-2.1,0L2.1,0M-0.5,-0.15L0.5,-0.15L0.5,0.15L-0.5,0.15Z"]}, "legend": {"title": null, "orient": "none", "legendX": -28, "legendY": 11, "columns": 4}}}}
]
}
